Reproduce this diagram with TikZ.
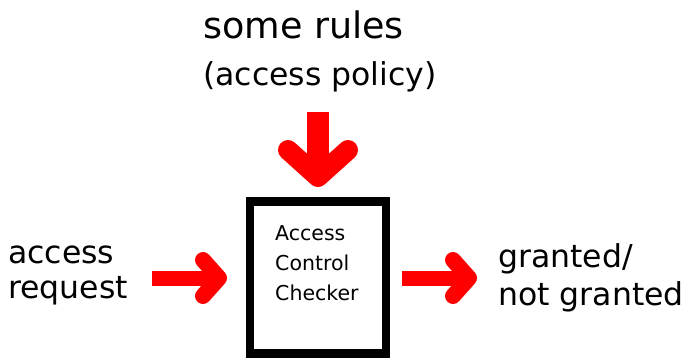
\documentclass[tikz,border=0pt]{standalone}
\usepackage{fontspec}
\setmainfont{DejaVu Sans}
\begin{document}
\begin{tikzpicture}[x=1pt,y=-1pt,
  lbl/.style={anchor=base west,inner sep=0pt,text=black},
  redarrow/.style={draw=red,line cap=round,line join=round}]
\useasboundingbox (0,0) rectangle (686,357);
\fill[white] (0,0) rectangle (686,357);
% texts
\node[lbl,font=\fontsize{36.5}{40}\selectfont] (rules) at (203,38) {some rules};
\node[lbl,font=\fontsize{31.5}{34}\selectfont] (policy) at (203,85) {(access policy)};
\node[lbl,font=\fontsize{31.5}{36}\selectfont] (req1) at (8,263) {access};
\node[lbl,font=\fontsize{31.5}{36}\selectfont] (req2) at (8,298) {request};
\node[lbl,font=\fontsize{31.5}{36}\selectfont] (out1) at (498,267) {granted/};
\node[lbl,font=\fontsize{31.5}{36}\selectfont] (out2) at (498,305) {not granted};
% box
\node[draw=black,line width=8.5pt,minimum width=136pt,minimum height=152pt,inner sep=0pt] (box) at (318,277.5) {};
\node[lbl,font=\fontsize{20.5}{22}\selectfont] (t1) at (275,240) {Access};
\node[lbl,font=\fontsize{20.5}{22}\selectfont] (t2) at (275,270) {Control};
\node[lbl,font=\fontsize{20.5}{22}\selectfont] (t3) at (275,300) {Checker};
% down arrow
\fill[red] (307,112) rectangle (329,170);
\draw[redarrow,line width=20pt] (288,150) -- (318,177) -- (348,150);
% right arrow 1
\fill[red] (152,271) rectangle (214,286);
\draw[redarrow,line width=16pt] (203,260) -- (219,278) -- (203,296);
% right arrow 2
\fill[red] (402,271) rectangle (464,286);
\draw[redarrow,line width=16pt] (453,260) -- (469,278) -- (453,296);
\end{tikzpicture}
\end{document}
